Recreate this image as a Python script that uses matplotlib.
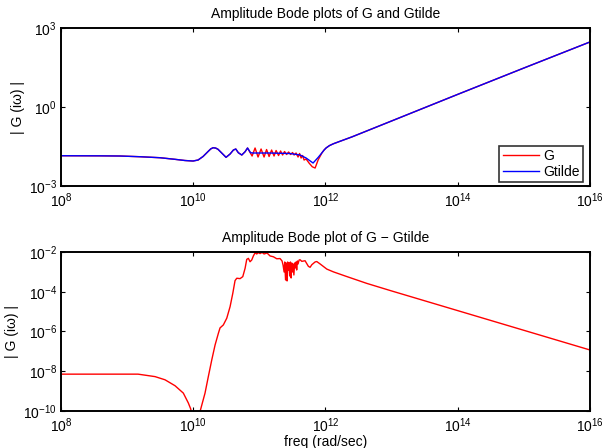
import matplotlib

matplotlib.use("Agg")
import matplotlib.pyplot as plt
import numpy as np

# values (log10 of frequency / magnitude)
gt_logw = [8.000, 8.590, 8.893, 9.195, 9.498, 9.725, 9.876, 9.997, 10.073, 10.148,
           10.224, 10.265, 10.300, 10.340, 10.375, 10.446, 10.496, 10.557, 10.607,
           10.643, 10.682, 10.734, 10.784, 10.821, 10.867, 10.905, 11.162, 11.464,
           11.616, 11.707, 11.812, 11.888, 11.949, 11.98, 12.009, 12.06, 12.12, 12.20,
           12.40, 13.0, 14.0, 15.0, 16.0]
gt_logmag = [-1.850, -1.854, -1.861, -1.888, -1.926, -1.987, -2.032, -2.051, -2.013, -1.880,
             -1.690, -1.590, -1.546, -1.560, -1.607, -1.785, -1.911, -1.785, -1.634,
             -1.595, -1.736, -1.823, -1.698, -1.557, -1.736, -1.747, -1.747, -1.766,
             -1.823, -1.937, -2.127, -1.918, -1.730, -1.630, -1.555, -1.465, -1.395, -1.32,
             -1.135, -0.53, 0.48, 1.48, 2.47]

# G follows Gtilde except for the ripple between 10^10.8 and 10^12
g_osc_logw = [10.890, 10.935, 10.980, 11.026, 11.071, 11.109, 11.147, 11.185, 11.222,
              11.253, 11.290, 11.321, 11.351, 11.381, 11.412, 11.442, 11.472, 11.502,
              11.525, 11.555, 11.585, 11.608, 11.631, 11.654, 11.676, 11.707, 11.752,
              11.800, 11.843, 11.888, 11.949, 11.98]
g_osc_logmag = [-1.861, -1.557, -1.899, -1.595, -1.899, -1.615, -1.880, -1.634, -1.861,
                -1.652, -1.842, -1.671, -1.823, -1.690, -1.804, -1.709, -1.804, -1.728,
                -1.823, -1.747, -1.899, -1.766, -1.937, -1.842, -2.013, -1.975, -2.13,
                -2.27, -2.317, -2.013, -1.730, -1.630]

diff_logw = [8.000, 9.165, 9.422, 9.573, 9.725, 9.850, 9.926, 9.962, 10.03, 10.113,
             10.178, 10.228, 10.280, 10.330, 10.380, 10.405, 10.455, 10.507, 10.557,
             10.598, 10.632, 10.658, 10.708, 10.749, 10.784, 10.809, 10.834, 10.859,
             10.885, 10.909, 10.935, 10.961, 10.980, 11.011, 11.041, 11.071, 11.116,
             11.162, 11.212, 11.263, 11.313, 11.343, 11.358, 11.374, 11.384, 11.396,
             11.407, 11.419, 11.428, 11.439, 11.448, 11.458, 11.469, 11.480, 11.490,
             11.501, 11.510, 11.522, 11.533, 11.543, 11.554, 11.564, 11.575, 11.585,
             11.601, 11.616, 11.641, 11.691, 11.741, 11.767, 11.793, 11.843, 11.868,
             11.918, 12.02, 12.12, 12.30, 12.625, 13.0, 14.0, 15.0, 16.0]
diff_logmag = [-8.146, -8.146, -8.27, -8.43, -8.73, -9.10, -9.60, -9.90, -11.0, -9.90,
               -9.10, -8.27, -7.43, -6.68, -6.09, -5.82, -5.67, -5.33, -4.75,
               -4.08, -3.44, -3.32, -3.34, -3.24, -2.82, -2.37, -2.32, -2.49,
               -2.40, -2.20, -2.04, -2.10, -2.03, -2.08, -2.02, -2.10, -2.05,
               -2.20, -2.24, -2.34, -2.33, -2.452, -2.653, -3.005, -2.503, -3.407,
               -2.553, -3.457, -2.503, -2.905, -2.553, -3.206, -2.503, -3.307, -2.553,
               -3.005, -2.603, -3.156, -2.553, -2.804, -2.503, -2.905, -2.452, -2.603,
               -2.402, -2.39, -2.47, -2.44, -2.72, -2.77, -2.64, -2.50, -2.48,
               -2.60, -2.86, -3.00, -3.21, -3.58, -3.96, -4.95, -5.94, -6.93]

x_ticks = [8, 10, 12, 14, 16]
top_y_ticks = [-3, 0, 3]
bot_y_ticks = [-10, -8, -6, -4, -2]

plt.rcParams["font.family"] = ["Liberation Sans", "DejaVu Sans"]
plt.rcParams["font.size"] = 10
plt.rcParams["mathtext.default"] = "regular"


def pow_labels(exps):
    return ["$10^{%d}$" % e for e in exps]


def style_axes(ax, yexps):
    ax.set_xscale("log")
    ax.set_yscale("log")
    ax.set_xlim(1e8, 1e16)
    ax.set_ylim(10.0 ** yexps[0], 10.0 ** yexps[-1])
    ax.set_xticks([10.0 ** e for e in x_ticks])
    ax.set_xticklabels(pow_labels(x_ticks))
    ax.set_yticks([10.0 ** e for e in yexps])
    ax.set_yticklabels(pow_labels(yexps))
    ax.minorticks_off()
    ax.tick_params(direction="in", length=3.2, width=0.8, top=True, right=True, pad=3)
    ax.tick_params(axis="x", pad=4)
    for s in ax.spines.values():
        s.set_linewidth(1.4)


# G = Gtilde outside the ripple band
gt_w = np.asarray(gt_logw)
gt_m = np.asarray(gt_logmag)
lo = gt_w <= 10.821
hi = gt_w >= 12.009
g_w = np.concatenate([gt_w[lo], g_osc_logw, gt_w[hi]])
g_m = np.concatenate([gt_m[lo], g_osc_logmag, gt_m[hi]])

fig = plt.figure(figsize=(6.04, 4.48), dpi=100)
ax1 = fig.add_axes([0.101, 0.5848, 0.8758, 0.3527])
ax2 = fig.add_axes([0.101, 0.0826, 0.8758, 0.3549])

ax1.plot(10.0 ** g_w, 10.0 ** g_m, color="red", lw=1.0, label="G")
ax1.plot(10.0 ** gt_w, 10.0 ** gt_m, color="blue", lw=1.0, label="Gtilde")
style_axes(ax1, top_y_ticks)
ax1.set_title("Amplitude Bode plots of G and Gtilde", fontsize=10, pad=7.5)
ax1.set_ylabel("| G (iω) |", labelpad=3)
leg = ax1.legend(loc="lower right", bbox_to_anchor=(0.9868, 0.0253), fancybox=False,
                 edgecolor="black", borderaxespad=0.0, handlelength=2.6,
                 handletextpad=0.3, labelspacing=0.1, borderpad=0.25, fontsize=10)
leg.get_frame().set_linewidth(1.2)

ax2.plot(10.0 ** np.asarray(diff_logw), 10.0 ** np.asarray(diff_logmag), color="red", lw=1.0)
style_axes(ax2, bot_y_ticks)
ax2.set_title("Amplitude Bode plot of G \u2212 Gtilde", fontsize=10, pad=7)
ax2.set_ylabel("| G (iω) |", labelpad=3)
ax2.set_xlabel("freq (rad/sec)", labelpad=0)

fig.savefig("out.png", dpi=100)
